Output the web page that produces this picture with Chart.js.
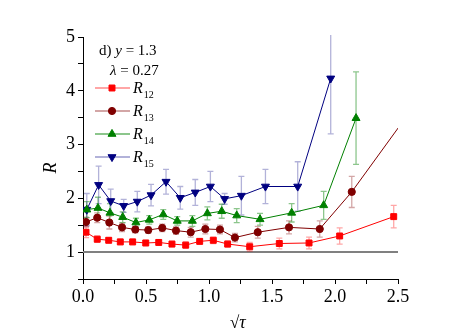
<!DOCTYPE html>
<html>
<head>
<meta charset="utf-8">
<script src="https://cdn.jsdelivr.net/npm/chart.js@4/dist/chart.umd.min.js"></script>
<style>
  html, body { margin: 0; padding: 0; background: #fff; }
  #wrap { width: 463px; height: 334px; }
</style>
</head>
<body>
<div id="wrap"><canvas id="chart" width="463" height="334"></canvas></div>
<script>
// sqrt(tau) positions, R values and error half-widths per series
const x12 = [0.024, 0.113, 0.204, 0.296, 0.394, 0.498, 0.601, 0.706, 0.815, 0.926, 1.034, 1.148, 1.323, 1.558, 1.794, 2.037, 2.466];
const r12 = [1.37, 1.24, 1.22, 1.19, 1.19, 1.17, 1.18, 1.15, 1.13, 1.20, 1.22, 1.15, 1.10, 1.16, 1.17, 1.30, 1.66];
const e12 = [0.10, 0.06, 0.05, 0.05, 0.05, 0.05, 0.05, 0.05, 0.06, 0.05, 0.06, 0.06, 0.08, 0.10, 0.11, 0.15, 0.21];

const x13 = [0.024, 0.113, 0.209, 0.310, 0.415, 0.518, 0.629, 0.738, 0.855, 0.971, 1.087, 1.206, 1.387, 1.635, 1.879, 2.133, 2.70];
const r13 = [1.56, 1.64, 1.55, 1.46, 1.42, 1.41, 1.45, 1.40, 1.37, 1.43, 1.42, 1.27, 1.37, 1.46, 1.43, 2.12, 3.95];
const e13 = [0.09, 0.09, 0.12, 0.08, 0.06, 0.06, 0.07, 0.07, 0.09, 0.09, 0.08, 0.08, 0.11, 0.12, 0.15, 0.29, 0.40];

const x14 = [0.030, 0.119, 0.214, 0.315, 0.420, 0.526, 0.637, 0.748, 0.868, 0.987, 1.101, 1.220, 1.405, 1.656, 1.910, 2.167];
const r14 = [1.79, 1.82, 1.73, 1.65, 1.55, 1.60, 1.70, 1.58, 1.58, 1.72, 1.76, 1.68, 1.61, 1.73, 1.87, 3.49];
const e14 = [0.15, 0.20, 0.17, 0.10, 0.08, 0.08, 0.09, 0.08, 0.10, 0.12, 0.13, 0.13, 0.11, 0.17, 0.26, 0.86];

const x15 = [0.030, 0.124, 0.220, 0.323, 0.431, 0.540, 0.659, 0.772, 0.891, 1.011, 1.124, 1.257, 1.448, 1.704, 1.966];
const r15 = [1.79, 2.25, 1.95, 1.86, 1.94, 2.06, 2.31, 2.01, 2.11, 2.22, 1.99, 2.05, 2.22, 2.22, 4.23];
const e15 = [0.30, 0.35, 0.22, 0.12, 0.19, 0.20, 0.23, 0.21, 0.24, 0.28, 0.10, 0.36, 0.32, 0.46, 1.03];

const seriesNames = ['12', '13', '14', '15'];
const xTickLabels = ['0.0', '0.5', '1.0', '1.5', '2.0', '2.5'];
const yTickLabels = ['1', '2', '3', '4', '5'];

const SERIF = '"Liberation Serif", "DejaVu Serif", serif';

function pts(xs, ys) {
  return xs.map((x, i) => ({ x: x, y: ys[i] }));
}

const series = [
  { x: x12, r: r12, e: e12, color: '#ff0000', bar: 'rgba(255,0,0,0.35)', style: 'rect', radius: 4.2, rot: 0 },
  { x: x13, r: r13, e: e13, color: '#800000', bar: 'rgba(128,0,0,0.35)', style: 'circle', radius: 3.6, rot: 0 },
  { x: x14, r: r14, e: e14, color: '#008000', bar: 'rgba(0,128,0,0.45)', style: 'triangle', radius: 4.6, rot: 0 },
  { x: x15, r: r15, e: e15, color: '#000080', bar: 'rgba(0,0,128,0.3)', style: 'triangle', radius: 4.6, rot: 180 }
];

const errorBars = {
  id: 'errorBars',
  beforeDatasetsDraw(chart) {
    const { ctx, chartArea: a, scales: { x, y } } = chart;
    ctx.save();
    ctx.beginPath();
    ctx.rect(a.left, a.top - 2, a.right - a.left, a.bottom - a.top + 2);
    ctx.clip();
    // reference line at R = 1
    ctx.strokeStyle = '#808080';
    ctx.lineWidth = 2;
    ctx.beginPath();
    ctx.moveTo(a.left, y.getPixelForValue(1));
    ctx.lineTo(a.right, y.getPixelForValue(1));
    ctx.stroke();
    ctx.lineWidth = 1.3;
    series.forEach(s => {
      ctx.strokeStyle = s.bar;
      s.x.forEach((xv, i) => {
        const px = x.getPixelForValue(xv);
        const top = y.getPixelForValue(s.r[i] + s.e[i]);
        const bot = y.getPixelForValue(s.r[i] - s.e[i]);
        ctx.beginPath();
        ctx.moveTo(px, top); ctx.lineTo(px, bot);
        ctx.moveTo(px - 3, top); ctx.lineTo(px + 3, top);
        ctx.moveTo(px - 3, bot); ctx.lineTo(px + 3, bot);
        ctx.stroke();
      });
    });
    ctx.restore();
  }
};

function textRuns(ctx, runs, x, y) {
  runs.forEach(r => {
    ctx.font = r.font;
    ctx.fillText(r.t, x, y + (r.dy || 0));
    x += ctx.measureText(r.t).width;
  });
}

const annotations = {
  id: 'annotations',
  afterDraw(chart) {
    const { ctx } = chart;
    ctx.save();
    ctx.fillStyle = '#000';
    ctx.textBaseline = 'alphabetic';
    ctx.textAlign = 'left';
    const reg = '15px ' + SERIF, ital = 'italic 15px ' + SERIF;
    textRuns(ctx, [{ t: 'd) ', font: reg }, { t: 'y', font: ital }, { t: ' = 1.3', font: reg }], 99, 55);
    textRuns(ctx, [{ t: 'λ', font: ital }, { t: ' = 0.27', font: reg }], 110, 75);

    const rows = [88, 111, 134, 157];
    series.forEach((s, i) => {
      const yy = rows[i];
      ctx.strokeStyle = s.bar;
      ctx.lineWidth = 2;
      ctx.beginPath();
      ctx.moveTo(95, yy); ctx.lineTo(130, yy);
      ctx.stroke();
      ctx.fillStyle = s.color;
      ctx.strokeStyle = s.color;
      ctx.lineWidth = 1;
      Chart.helpers.drawPoint(ctx, { pointStyle: s.style, radius: s.radius, rotation: s.rot, borderWidth: 1 }, 112, yy);
      ctx.fillStyle = '#000';
      textRuns(ctx, [
        { t: 'R', font: 'italic 16px ' + SERIF },
        { t: ' ', font: '4px ' + SERIF },
        { t: seriesNames[i], font: '10px ' + SERIF, dy: 5 }
      ], 133, yy + 5);
    });

    // axis titles
    ctx.font = 'italic 18px ' + SERIF;
    ctx.save();
    ctx.translate(56, 168);
    ctx.rotate(-Math.PI / 2);
    ctx.textAlign = 'center';
    ctx.fillText('R', 0, 0);
    ctx.restore();
    textRuns(ctx, [{ t: '√', font: '17px ' + SERIF }, { t: 'τ', font: 'italic 18px ' + SERIF }], 230, 328);
    ctx.restore();
  }
};

new Chart(document.getElementById('chart'), {
  type: 'scatter',
  data: {
    datasets: series.map((s, i) => ({
      label: 'R' + seriesNames[i],
      data: pts(s.x, s.r),
      showLine: true,
      borderColor: s.color,
      borderWidth: 1,
      backgroundColor: s.color,
      pointBackgroundColor: s.color,
      pointBorderColor: s.color,
      pointStyle: s.style,
      pointRadius: s.radius,
      pointRotation: s.rot,
      pointBorderWidth: 1,
      tension: 0
    }))
  },
  options: {
    responsive: false,
    animation: false,
    layout: { padding: { left: 0, right: 65, top: 37, bottom: 0 } },
    plugins: { legend: { display: false }, tooltip: { enabled: false } },
    scales: {
      x: {
        type: 'linear', min: 0, max: 2.5,
        afterFit: s => { s.height = 55; },
        border: { color: '#000', width: 1 },
        grid: { drawOnChartArea: false, color: '#000', tickLength: 5 },
        ticks: {
          stepSize: 0.25, color: '#000', maxRotation: 0, autoSkip: false, padding: 2,
          font: { family: SERIF, size: 18 },
          callback: v => {
            const k = Math.round(v * 2);
            return Math.abs(v * 2 - k) < 1e-6 ? xTickLabels[k] : '';
          }
        }
      },
      y: {
        type: 'linear', min: 0.5, max: 5,
        afterFit: s => { s.width = 83; },
        border: { color: '#000', width: 1 },
        grid: { drawOnChartArea: false, color: '#000', tickLength: 5 },
        ticks: {
          stepSize: 0.5, color: '#000', autoSkip: false, padding: 3,
          font: { family: SERIF, size: 18 },
          callback: v => Number.isInteger(v) ? yTickLabels[v - 1] : ''
        }
      }
    }
  },
  plugins: [errorBars, annotations]
});
</script>
</body>
</html>
